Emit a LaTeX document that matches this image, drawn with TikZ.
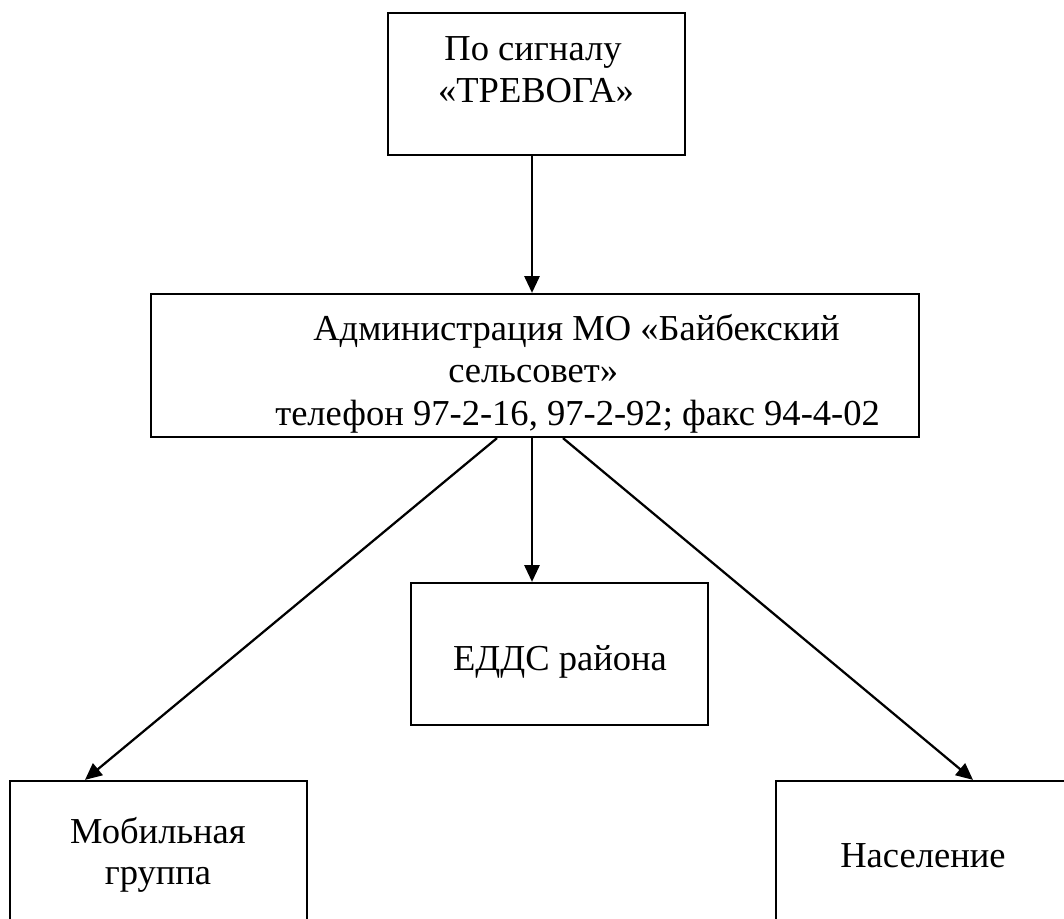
\documentclass[tikz,border=0pt]{standalone}
\usepackage{fontspec}
\setmainfont{Liberation Serif}
\usetikzlibrary{arrows.meta}
\begin{document}
\begin{tikzpicture}[box/.style={draw,line width=1.6pt,minimum width=7.425cm,minimum height=3.55cm,inner sep=0pt},
	arr/.style={line width=1.6pt,-{Triangle[length=0.42cm,width=0.38cm]}},
	txt/.style={font=\fontsize{26pt}{30pt}\selectfont,inner sep=0pt}]
		
		\clip (0,0) rectangle (26.6,-22.975);
		
		\node[box] (top) at (13.4125,-2.1){};
		\node[box,minimum width=19.2cm,minimum height=3.575cm] (adm) at (13.375,-9.1375){};
		\node[box] (edds) at (13.9875,-16.35){};
		\node[box] (mob) at (3.9625,-21.3){};
		\node[box] (pop) at (23.1125,-21.3){};
		
		\node[txt,anchor=base] (toptxt1) at (13.325,-1.5){По сигналу};
		\node[txt,anchor=base] (toptxt2) at (13.4,-2.55){«ТРЕВОГА»};
		\node[txt,anchor=base west] (admtxt1) at (7.825,-8.5){Администрация МО «Байбекский};
		\node[txt,anchor=base west] (admtxt2) at (11.2,-9.5625){сельсовет»};
		\node[txt,anchor=base west] (admtxt3) at (6.875,-10.625){телефон 97-2-16, 97-2-92; факс 94-4-02};
		\node[txt,anchor=base] (eddstxt) at (14,-16.75){ЕДДС района};
		\node[txt,anchor=base] (mobtxt1) at (3.95,-21.075){Мобильная};
		\node[txt,anchor=base] (mobtxt2) at (3.95,-22.1){группа};
		\node[txt,anchor=base] (poptxt) at (23.075,-21.675){Население};
		
		\draw[arr] ([xshift=-0.1125cm]top.south)--([xshift=-0.075cm]adm.north);
		\draw[arr] ([xshift=-0.075cm]adm.south)--([xshift=-0.6875cm]edds.north);
		\draw[arr] ([xshift=-0.95cm]adm.south)--([xshift=-1.8375cm]mob.north);
		\draw[arr] ([xshift=0.7cm]adm.south)--([xshift=1.2125cm]pop.north);
		\end{tikzpicture}
\end{document}
